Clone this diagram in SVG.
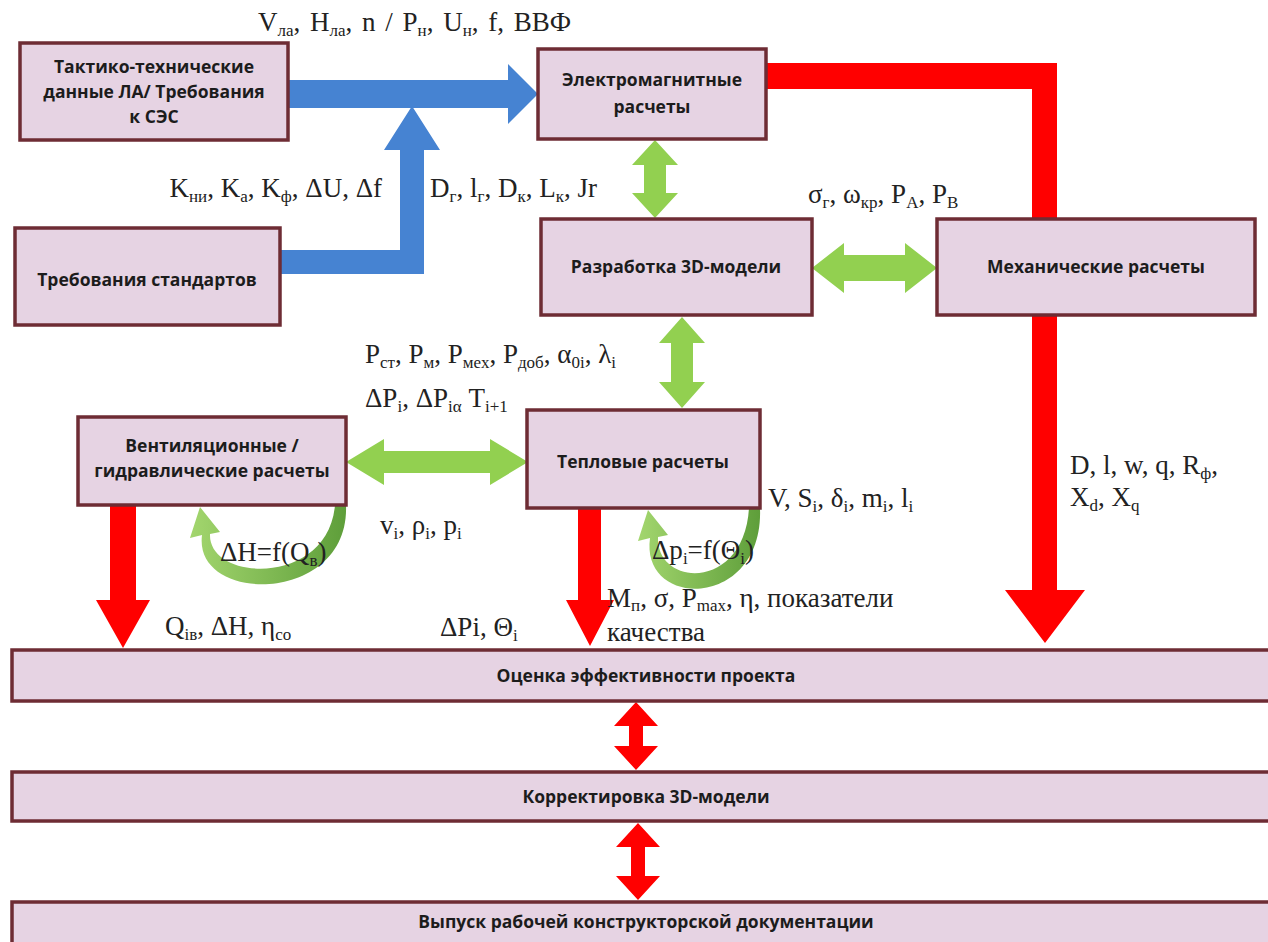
<svg xmlns="http://www.w3.org/2000/svg" width="1268" height="942" viewBox="0 0 1268 942">
<defs>
<style>
.box{fill:#e6d3e3;stroke:#6e2c34;stroke-width:3.5}
.bt{font-family:"Open Sans","Liberation Sans",sans-serif;font-weight:700;font-size:17.5px;fill:#1c1c1c;text-anchor:middle}
.lb{font-family:"Liberation Serif","Times New Roman",serif;font-size:27px;fill:#222}
.s{font-size:17px}
.red{fill:#ff0000}
.blue{fill:#4683d2}
.green{fill:#92d050}
</style>
<linearGradient id="lg" x1="0" y1="0" x2="1" y2="0">
<stop offset="0" stop-color="#a3d66e"/>
<stop offset="1" stop-color="#5e9e3a"/>
</linearGradient>
</defs>
<rect width="1268" height="942" fill="#ffffff"/>

<g id="connectors">
<path class="blue" d="M288 80 H508 V64 L538 94 L508 124 V108 H288 Z"/>
<path class="blue" d="M280 250 H400 V150 H384 L412 106 L440 150 H424 V274 H280 Z"/>
<path class="red" d="M766 63 H1057 V590 H1085 L1045 643 L1005 590 H1032 V89 H766 Z"/>
<path class="red" d="M110 505 H136 V600 H150 L123 648 L96 600 H110 Z"/>
<path class="red" d="M578 508 H601 V600 H614 L590 646 L566 600 H578 Z"/>
<polygon class="green" points="655,140 678,165 666,165 666,193 678,193 655,218 632,193 644,193 644,165 632,165"/>
<polygon class="green" points="682,317 705,343 693,343 693,382 705,382 682,408 659,382 671,382 671,343 659,343"/>
<polygon class="green" points="812,268 844,243 844,255 905,255 905,243 937,268 905,293 905,281 844,281 844,293"/>
<polygon class="green" points="346,462 384,439 384,451 490,451 490,439 528,462 490,485 490,473 384,473 384,485"/>
<polygon class="red" points="636,702 658,726 643,726 643,746 658,746 636,770 614,746 629,746 629,726 614,726"/>
<polygon class="red" points="638,823 660,847 645,847 645,876 660,876 638,900 616,876 631,876 631,847 616,847"/>
<path fill="url(#lg)" d="M346 505 C350 605 193 605 202 535 L190 538 L200 507 L220 532 L210 534 C208 582 328 587 335 505 Z"/>
<path fill="url(#lg)" d="M760 508 C764 610 640 610 650 538 L638 541 L648 510 L668 535 L658 537 C656 587 744 592 749 508 Z"/>
</g>

<g id="n-ttd"><rect class="box" x="20" y="43" width="268" height="97"/>
<text class="bt" x="154" y="73">Тактико-технические</text>
<text class="bt" x="154" y="98">данные ЛА/ Требования</text>
<text class="bt" x="154" y="123">к СЭС</text></g>

<g id="n-em"><rect class="box" x="538" y="49" width="228" height="90"/>
<text class="bt" x="652" y="86">Электромагнитные</text>
<text class="bt" x="652" y="113">расчеты</text></g>

<g id="n-std"><rect class="box" x="15" y="228" width="265" height="97"/>
<text class="bt" x="147" y="286">Требования стандартов</text></g>

<g id="n-3d"><rect class="box" x="541" y="219" width="271" height="96"/>
<text class="bt" x="676" y="273">Разработка 3D-модели</text></g>

<g id="n-mech"><rect class="box" x="937" y="219" width="318" height="96"/>
<text class="bt" x="1096" y="273">Механические расчеты</text></g>

<g id="n-vent"><rect class="box" x="78" y="417" width="268" height="88"/>
<text class="bt" x="212" y="452">Вентиляционные /</text>
<text class="bt" x="212" y="477">гидравлические расчеты</text></g>

<g id="n-therm"><rect class="box" x="527" y="410" width="233" height="98"/>
<text class="bt" x="643" y="468">Тепловые расчеты</text></g>

<g id="n-eval"><rect class="box" x="12" y="650" width="1272" height="51"/>
<text class="bt" x="646" y="682">Оценка эффективности проекта</text></g>

<g id="n-corr"><rect class="box" x="12" y="772" width="1272" height="49"/>
<text class="bt" x="646" y="803">Корректировка 3D-модели</text></g>

<g id="n-doc"><rect class="box" x="12" y="902" width="1272" height="50"/>
<text class="bt" x="646" y="928">Выпуск рабочей конструкторской документации</text></g>

<g id="labels">
<text class="lb" x="258" y="31" font-size="30" word-spacing="3">V<tspan class="s" dy="5" font-size="18">ла</tspan><tspan dy="-5">, H</tspan><tspan class="s" dy="5" font-size="18">ла</tspan><tspan dy="-5">, n / P</tspan><tspan class="s" dy="5" font-size="18">н</tspan><tspan dy="-5">, U</tspan><tspan class="s" dy="5" font-size="18">н</tspan><tspan dy="-5">, f, ВВФ</tspan></text>
<text class="lb" x="382" y="197" text-anchor="end">K<tspan class="s" dy="5">ни</tspan><tspan dy="-5">, K</tspan><tspan class="s" dy="5">a</tspan><tspan dy="-5">, K</tspan><tspan class="s" dy="5">ф</tspan><tspan dy="-5">, ΔU, Δf</tspan></text>
<text class="lb" x="430" y="197" font-size="28">D<tspan class="s" dy="5">г</tspan><tspan dy="-5">, l</tspan><tspan class="s" dy="5">г</tspan><tspan dy="-5">, D</tspan><tspan class="s" dy="5">к</tspan><tspan dy="-5">, L</tspan><tspan class="s" dy="5">к</tspan><tspan dy="-5">, Jr</tspan></text>
<text class="lb" x="808" y="203" font-size="28">σ<tspan class="s" dy="5">г</tspan><tspan dy="-5">, ω</tspan><tspan class="s" dy="5">кр</tspan><tspan dy="-5">, P</tspan><tspan class="s" dy="5">A</tspan><tspan dy="-5">, P</tspan><tspan class="s" dy="5">B</tspan></text>
<text class="lb" x="365" y="363" font-size="25">P<tspan class="s" dy="5">ст</tspan><tspan dy="-5">, P</tspan><tspan class="s" dy="5">м</tspan><tspan dy="-5">, P</tspan><tspan class="s" dy="5">мех</tspan><tspan dy="-5">, P</tspan><tspan class="s" dy="5">доб</tspan><tspan dy="-5">, α</tspan><tspan class="s" dy="5">0i</tspan><tspan dy="-5">, λ</tspan><tspan class="s" dy="5">i</tspan></text>
<text class="lb" x="365" y="407">ΔP<tspan class="s" dy="5">i</tspan><tspan dy="-5">, ΔP</tspan><tspan class="s" dy="5">iα</tspan><tspan dy="-5"> T</tspan><tspan class="s" dy="5">i+1</tspan></text>
<text class="lb" x="380" y="534">v<tspan class="s" dy="5">i</tspan><tspan dy="-5">, ρ</tspan><tspan class="s" dy="5">i</tspan><tspan dy="-5">,  p</tspan><tspan class="s" dy="5">i</tspan></text>
<text class="lb" x="220" y="561" font-size="23">ΔH=f(Q<tspan class="s" dy="5" font-size="15">в</tspan><tspan dy="-5">)</tspan></text>
<text class="lb" x="165" y="635">Q<tspan class="s" dy="5">iв</tspan><tspan dy="-5">, ΔH, η</tspan><tspan class="s" dy="5">co</tspan></text>
<text class="lb" x="440" y="636">ΔPi, Θ<tspan class="s" dy="5">i</tspan></text>
<text class="lb" x="652" y="559" font-size="22">Δp<tspan class="s" dy="5" font-size="14">i</tspan><tspan dy="-5">=f(Θ</tspan><tspan class="s" dy="5" font-size="14">i</tspan><tspan dy="-5">)</tspan></text>
<text class="lb" x="768" y="507" font-size="25">V, S<tspan class="s" dy="5">i</tspan><tspan dy="-5">, δ</tspan><tspan class="s" dy="5">i</tspan><tspan dy="-5">, m</tspan><tspan class="s" dy="5">i</tspan><tspan dy="-5">, l</tspan><tspan class="s" dy="5">i</tspan></text>
<text class="lb" x="1070" y="474" font-size="28">D, l, w, q, R<tspan class="s" dy="5">ф</tspan><tspan dy="-5">,</tspan></text>
<text class="lb" x="1070" y="506" font-size="28">X<tspan class="s" dy="5">d</tspan><tspan dy="-5">, X</tspan><tspan class="s" dy="5">q</tspan></text>
<text class="lb" x="607" y="607" font-size="27">M<tspan class="s" dy="4">п</tspan><tspan dy="-4">, σ, P</tspan><tspan class="s" dy="4">max</tspan><tspan dy="-4">, η, показатели</tspan></text>
<text class="lb" x="607" y="641" font-size="27">качества</text>
</g>
</svg>
